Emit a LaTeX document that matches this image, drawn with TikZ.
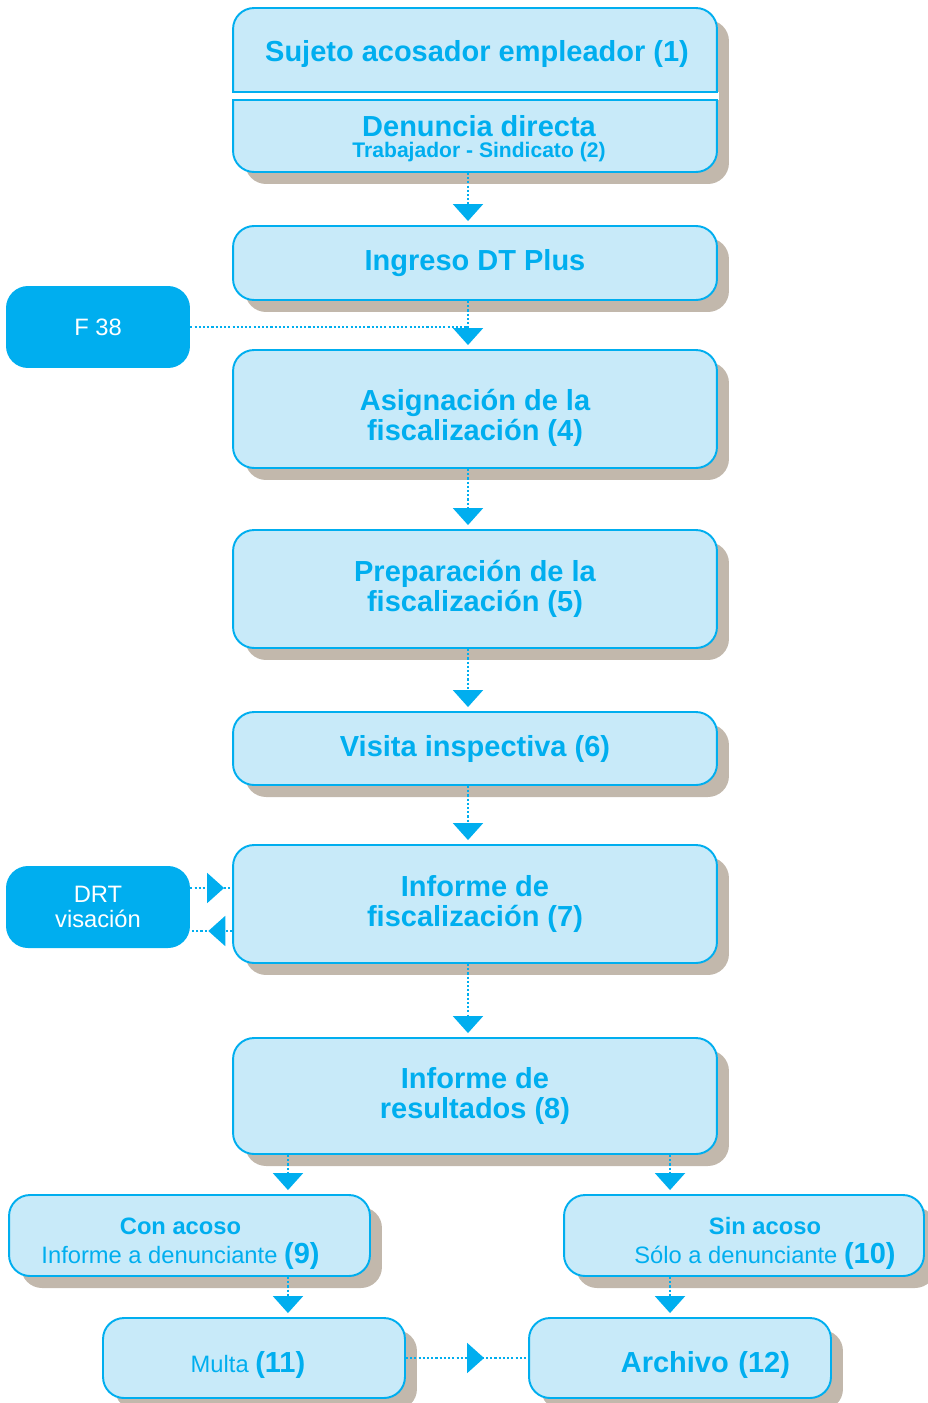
\documentclass[tikz,border=0pt]{standalone}
\usepackage{fontspec}
\setmainfont{Liberation Sans}
\usepackage{xcolor}
\usetikzlibrary{arrows.meta,shadows}

\definecolor{dtcyan}{HTML}{00AEEF}
\definecolor{dtfill}{HTML}{C8EAF9}
\definecolor{dtshadow}{HTML}{C2B8AC}

\tikzset{
  stage/.style={draw=dtcyan, line width=1.1pt, fill=dtfill, rounded corners=0.42cm,
    drop shadow={shadow xshift=0.24cm, shadow yshift=-0.24cm, fill=dtshadow, opacity=1},
    text=dtcyan, align=center, inner sep=0pt, minimum width=9.68cm,
    font=\bfseries\fontsize{16.5}{17}\selectfont},
  outcome/.style={stage, minimum height=1.62cm, font=\fontsize{13.5}{16.4}\selectfont},
  title/.style={text=dtcyan, inner sep=0pt, anchor=base, font=\bfseries\fontsize{16.5}{17}\selectfont},
  side/.style={fill=dtcyan, rounded corners=0.44cm, text=white, align=center,
    minimum width=3.68cm, minimum height=1.64cm, font=\fontsize{13.5}{14.2}\selectfont},
  dots/.style={draw=dtcyan, line width=1.2pt, dash pattern=on 1.2pt off 1.2pt},
  flow/.style={dots, -{Triangle[width=0.6cm,length=0.34cm]}, shorten >=0.08cm},
}
\newcommand{\bignum}[1]{{\bfseries\fontsize{16.5}{16.4}\selectfont#1}}

\begin{document}
\begin{tikzpicture}[x=0.02cm, y=-0.02cm]
\useasboundingbox (0,0) rectangle (927,1403);

% Header block, split in two
\node[stage, minimum height=3.28cm] (top) at (475,90) {};
\fill[white] (228,92) rectangle (718.5,100);
\draw[dtcyan, line width=1.1pt] (top.west |- 0,92) -- (top.east |- 0,92);
\draw[dtcyan, line width=1.1pt] (top.west |- 0,100) -- (top.east |- 0,100);
\node[title] (sujeto) at (477,61.5) {Sujeto acosador empleador (1)};
\node[title] (denuncia) at (479,136.5) {Denuncia directa};
\node[title, font=\bfseries\fontsize{12}{12}\selectfont] (sindicato) at (479,157.5) {Trabajador - Sindicato (2)};

% Main column
\node[stage, minimum height=1.48cm] (ingreso) at (475,263) {Ingreso DT Plus};
\node[stage, minimum height=2.36cm, text height=38pt, text depth=2pt] (asig) at (475,409) {Asignación de la\\fiscalización (4)};
\node[stage, minimum height=2.36cm] (prep) at (475,589) {Preparación de la\\fiscalización (5)};
\node[stage, minimum height=1.46cm] (visita) at (475,748.5) {Visita inspectiva (6)};
\node[stage, minimum height=2.36cm] (fisc) at (475,904) {Informe de\\fiscalización (7)};
\node[stage, minimum height=2.32cm] (result) at (475,1096) {Informe de\\resultados (8)};

% Side boxes
\node[side] (f38) at (98,327) {F 38};
\node[side] (drt) at (98,907) {DRT\\visación};

% Outcomes
\node[outcome, minimum width=7.22cm, text height=33pt, text depth=1pt] (con) at (189.5,1235.5)
  {{\bfseries Con acoso}\hspace*{0.36cm}\\Informe a denunciante \bignum{(9)}\hspace*{0.36cm}};
\node[outcome, minimum width=7.2cm, text height=33pt, text depth=1pt] (sin) at (744,1235.5)
  {\hspace*{0.84cm}{\bfseries Sin acoso}\\\hspace*{0.84cm}Sólo a denunciante \bignum{(10)}};
\node[outcome, minimum width=6.04cm, minimum height=1.6cm, text height=18pt, text depth=2pt] (multa) at (254,1358)
  {Multa \bignum{(11)}\hspace*{0.24cm}};
\node[outcome, minimum width=6.04cm, minimum height=1.6cm, text height=18pt, text depth=2pt,
  text width=4.4cm, align=right, font=\bfseries\fontsize{16.5}{17}\selectfont] (archivo) at (680,1358) {Archivo (12)};

% Flow down the column
\coordinate (spine) at ([xshift=-0.14cm]top.south);
\foreach \a/\b in {top/ingreso, ingreso/asig, asig/prep, prep/visita, visita/fisc, fisc/result}
  \draw[flow] (\a.south -| spine) -- (\b.north -| spine);
\draw[dots] (f38.east) -- (f38.east -| spine);

% DRT round trip
\coordinate (drtin) at ([yshift=0.38cm]drt.east);
\coordinate (drtout) at ([yshift=-0.48cm]drt.east);
\draw[dots] (drtin) -- (drtin -| fisc.west);
\draw[flow, shorten >=0.16cm] (drtin) -- (drtin -| fisc.west);
\draw[dots] (drtout -| fisc.west) -- (drtout);
\draw[flow, shorten >=0.36cm] (drtout -| fisc.west) -- (drtout);

% Branches
\coordinate (conline) at ([xshift=1.97cm]con.north);
\coordinate (sinline) at ([xshift=-1.48cm]sin.north);
\draw[flow] (result.south -| conline) -- (conline);
\draw[flow] (result.south -| sinline) -- (sinline);
\draw[flow] (con.south -| conline) -- (multa.north -| conline);
\draw[flow] (sin.south -| sinline) -- (archivo.north -| sinline);
\draw[dots] (multa.east) -- (archivo.west);
\draw[flow, shorten >=0.88cm] (multa.east) -- (archivo.west);

\end{tikzpicture}
\end{document}
